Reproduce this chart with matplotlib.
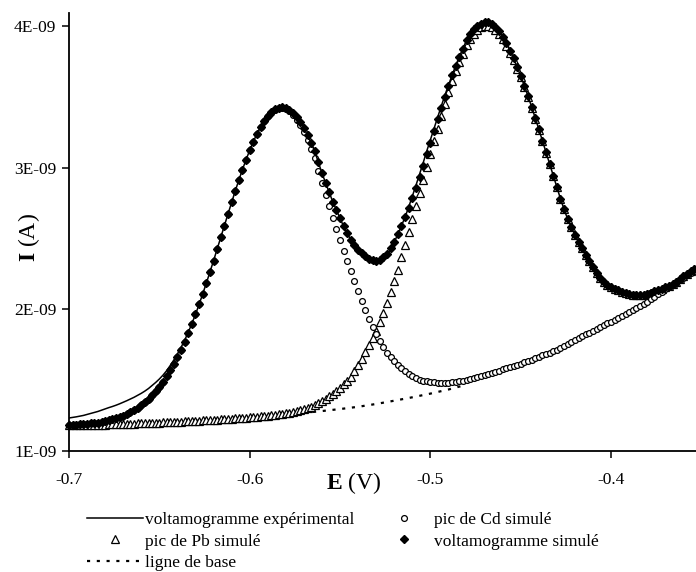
import numpy as np
import matplotlib
matplotlib.use("Agg")
import matplotlib.pyplot as plt
from matplotlib.lines import Line2D

plt.rcParams['font.family'] = ['Liberation Serif', 'DejaVu Serif']
plt.rcParams['mathtext.fontset'] = 'custom'
plt.rcParams['mathtext.rm'] = 'Liberation Serif'
plt.rcParams['mathtext.bf'] = 'Liberation Serif:bold'

# Potential scan grid (V), 2 mV steps from -0.700 to -0.354
E = np.round(-0.700 + 0.002 * np.arange(174), 3)

# Currents in units of 1E-09 A
EXP = [1.233, 1.237, 1.241, 1.246, 1.251, 1.258, 1.265, 1.272, 1.279, 1.288,
       1.297, 1.306, 1.314, 1.323, 1.333, 1.344, 1.355, 1.367, 1.379, 1.393,
       1.407, 1.423, 1.441, 1.462, 1.484, 1.508, 1.535, 1.566, 1.603, 1.642,
       1.685, 1.731, 1.782, 1.838, 1.899, 1.964, 2.034, 2.109, 2.184, 2.263,
       2.343, 2.426, 2.508, 2.591, 2.673, 2.755, 2.835, 2.912, 2.986, 3.056,
       3.122, 3.183, 3.238, 3.287, 3.330, 3.364, 3.391, 3.411, 3.423, 3.427,
       3.422, 3.408, 3.386, 3.357, 3.320, 3.277, 3.228, 3.173, 3.115, 3.037,
       2.961, 2.892, 2.825, 2.759, 2.700, 2.642, 2.585, 2.535, 2.490, 2.455,
       2.417, 2.385, 2.359, 2.337, 2.325, 2.321, 2.330, 2.351, 2.381, 2.425,
       2.475, 2.529, 2.589, 2.651, 2.722, 2.797, 2.874, 2.953, 3.033, 3.117,
       3.196, 3.276, 3.355, 3.433, 3.509, 3.582, 3.652, 3.720, 3.783, 3.840,
       3.898, 3.941, 3.975, 4.001, 4.016, 4.025, 4.024, 4.015, 3.995, 3.965,
       3.925, 3.878, 3.826, 3.770, 3.710, 3.646, 3.578, 3.506, 3.430, 3.352,
       3.272, 3.190, 3.108, 3.025, 2.942, 2.860, 2.780, 2.705, 2.636, 2.578,
       2.526, 2.478, 2.432, 2.386, 2.341, 2.298, 2.258, 2.224, 2.196, 2.174,
       2.157, 2.144, 2.133, 2.123, 2.115, 2.108, 2.103, 2.100, 2.100, 2.109,
       2.121, 2.135, 2.141, 2.144, 2.146, 2.156, 2.167, 2.180, 2.196, 2.214,
       2.233, 2.251, 2.268, 2.284]

SIM = [1.183, 1.185, 1.186, 1.188, 1.189, 1.192, 1.195, 1.198, 1.201, 1.206,
       1.211, 1.217, 1.223, 1.230, 1.239, 1.249, 1.260, 1.273, 1.287, 1.304,
       1.322, 1.343, 1.366, 1.392, 1.421, 1.453, 1.488, 1.526, 1.569, 1.614,
       1.663, 1.716, 1.772, 1.833, 1.897, 1.964, 2.034, 2.109, 2.184, 2.263,
       2.343, 2.426, 2.508, 2.591, 2.673, 2.755, 2.835, 2.912, 2.986, 3.056,
       3.122, 3.183, 3.238, 3.287, 3.330, 3.364, 3.391, 3.411, 3.423, 3.427,
       3.422, 3.408, 3.386, 3.357, 3.320, 3.277, 3.228, 3.173, 3.115, 3.037,
       2.961, 2.892, 2.825, 2.759, 2.700, 2.642, 2.585, 2.535, 2.490, 2.455,
       2.422, 2.395, 2.374, 2.357, 2.347, 2.343, 2.350, 2.366, 2.391, 2.430,
       2.475, 2.529, 2.589, 2.651, 2.717, 2.787, 2.859, 2.933, 3.011, 3.095,
       3.176, 3.258, 3.340, 3.421, 3.501, 3.578, 3.652, 3.720, 3.783, 3.840,
       3.898, 3.941, 3.975, 4.001, 4.016, 4.025, 4.024, 4.015, 3.995, 3.965,
       3.925, 3.878, 3.826, 3.770, 3.710, 3.646, 3.578, 3.506, 3.430, 3.352,
       3.272, 3.190, 3.108, 3.025, 2.942, 2.860, 2.780, 2.705, 2.636, 2.578,
       2.526, 2.478, 2.432, 2.386, 2.341, 2.298, 2.258, 2.224, 2.196, 2.174,
       2.157, 2.144, 2.133, 2.123, 2.115, 2.108, 2.103, 2.100, 2.100, 2.103,
       2.109, 2.117, 2.126, 2.136, 2.146, 2.156, 2.167, 2.180, 2.196, 2.214,
       2.233, 2.251, 2.268, 2.284]

CD = [1.183, 1.185, 1.186, 1.188, 1.189, 1.192, 1.195, 1.198, 1.201, 1.206,
      1.211, 1.217, 1.223, 1.230, 1.239, 1.249, 1.260, 1.273, 1.287, 1.304,
      1.322, 1.343, 1.366, 1.392, 1.421, 1.453, 1.488, 1.526, 1.569, 1.614,
      1.663, 1.716, 1.772, 1.833, 1.897, 1.964, 2.034, 2.109, 2.184, 2.263,
      2.343, 2.426, 2.508, 2.591, 2.673, 2.755, 2.835, 2.912, 2.986, 3.056,
      3.122, 3.183, 3.238, 3.286, 3.328, 3.362, 3.388, 3.407, 3.418, 3.420,
      3.413, 3.397, 3.372, 3.339, 3.298, 3.250, 3.195, 3.133, 3.067, 2.979,
      2.892, 2.810, 2.728, 2.645, 2.568, 2.491, 2.414, 2.342, 2.271, 2.202,
      2.129, 2.061, 1.996, 1.935, 1.878, 1.825, 1.777, 1.732, 1.692, 1.660,
      1.632, 1.609, 1.588, 1.565, 1.546, 1.530, 1.516, 1.504, 1.496, 1.493,
      1.487, 1.484, 1.482, 1.480, 1.481, 1.482, 1.485, 1.488, 1.491, 1.496,
      1.501, 1.507, 1.515, 1.522, 1.528, 1.535, 1.544, 1.552, 1.561, 1.568,
      1.576, 1.585, 1.592, 1.600, 1.608, 1.616, 1.625, 1.635, 1.644, 1.654,
      1.663, 1.674, 1.684, 1.695, 1.705, 1.716, 1.729, 1.742, 1.756, 1.769,
      1.782, 1.796, 1.809, 1.823, 1.836, 1.850, 1.863, 1.875, 1.888, 1.900,
      1.913, 1.926, 1.939, 1.952, 1.965, 1.978, 1.993, 2.009, 2.024, 2.040,
      2.055, 2.072, 2.089, 2.106, 2.123, 2.140, 2.156, 2.173, 2.189, 2.206,
      2.222, 2.239, 2.256, 2.273]

PB = [1.180, 1.181, 1.181, 1.182, 1.182, 1.183, 1.184, 1.185, 1.185, 1.186,
      1.187, 1.188, 1.189, 1.189, 1.190, 1.191, 1.192, 1.193, 1.194, 1.195,
      1.196, 1.197, 1.198, 1.199, 1.200, 1.201, 1.202, 1.203, 1.205, 1.206,
      1.207, 1.208, 1.209, 1.211, 1.212, 1.213, 1.214, 1.216, 1.217, 1.219,
      1.220, 1.222, 1.223, 1.225, 1.226, 1.228, 1.230, 1.232, 1.233, 1.235,
      1.237, 1.239, 1.241, 1.244, 1.247, 1.249, 1.252, 1.255, 1.259, 1.263,
      1.267, 1.271, 1.276, 1.283, 1.289, 1.296, 1.305, 1.314, 1.325, 1.337,
      1.351, 1.367, 1.385, 1.404, 1.425, 1.447, 1.470, 1.495, 1.525, 1.562,
      1.605, 1.650, 1.698, 1.746, 1.797, 1.850, 1.910, 1.975, 2.045, 2.120,
      2.198, 2.280, 2.366, 2.455, 2.545, 2.636, 2.727, 2.818, 2.910, 3.002,
      3.094, 3.185, 3.275, 3.363, 3.448, 3.530, 3.608, 3.680, 3.746, 3.805,
      3.865, 3.910, 3.945, 3.972, 3.990, 4.000, 4.000, 3.992, 3.973, 3.945,
      3.907, 3.861, 3.811, 3.757, 3.698, 3.636, 3.569, 3.498, 3.423, 3.346,
      3.267, 3.186, 3.105, 3.023, 2.941, 2.860, 2.780, 2.705, 2.636, 2.578,
      2.526, 2.478, 2.432, 2.386, 2.341, 2.298, 2.258, 2.224, 2.196, 2.174,
      2.157, 2.144, 2.133, 2.123, 2.115, 2.108, 2.103, 2.100, 2.100, 2.103,
      2.109, 2.117, 2.126, 2.136, 2.146, 2.156, 2.167, 2.180, 2.196, 2.214,
      2.233, 2.251, 2.268, 2.284]

E_BASE = [-0.70, -0.69, -0.68, -0.67, -0.66, -0.65, -0.64, -0.63, -0.62, -0.61,
          -0.60, -0.59, -0.58, -0.57, -0.56, -0.55, -0.54, -0.53, -0.52, -0.51,
          -0.50, -0.49, -0.48]
BASE = [1.180, 1.183, 1.187, 1.191, 1.196, 1.201, 1.207, 1.213, 1.220, 1.228,
        1.237, 1.247, 1.258, 1.269, 1.282, 1.296, 1.312, 1.332, 1.355, 1.379,
        1.405, 1.434, 1.468]

X_TICKS = [-0.7, -0.6, -0.5, -0.4]
X_TICKLABELS = ['-0.7', '-0.6', '-0.5', '-0.4']
Y_TICKS = [1e-9, 2e-9, 3e-9, 4e-9]
Y_TICKLABELS = ['1E-09', '2E-09', '3E-09', '4E-09']

LABELS = ['voltamogramme expérimental', 'pic de Pb simulé', 'ligne de base',
          'pic de Cd simulé', 'voltamogramme simulé']

scale = 1e-9
W, H = 696, 572
fig = plt.figure(figsize=(W / 100, H / 100), dpi=100)
ax = fig.add_axes([69 / W, 1 - 451 / H, (W - 69) / W, (451 - 13) / H])

ax.plot(E, np.array(PB) * scale, linestyle='none', marker='^', ms=5.2,
        mfc='white', mec='black', mew=0.9, zorder=3, clip_on=False)
ax.plot(E, np.array(CD) * scale, linestyle='none', marker='o', ms=4.2,
        mfc='white', mec='black', mew=0.9, zorder=3, clip_on=False)
ax.plot(E_BASE, np.array(BASE) * scale, color='black', lw=1.6,
        linestyle=(0, (1.4, 3.0)), zorder=2)
ax.plot(E, np.array(SIM) * scale, linestyle='none', marker='D', ms=4.0,
        color='black', zorder=4, clip_on=False)
ax.plot(E, np.array(EXP) * scale, color='black', lw=1.1, zorder=5)

ax.set_xlim(-0.7, -0.353)
ax.set_ylim(1e-9, 4.091e-9)
ax.set_xticks(X_TICKS)
ax.set_xticklabels(X_TICKLABELS)
ax.set_yticks(Y_TICKS)
ax.set_yticklabels(Y_TICKLABELS)
for s in ['top', 'right']:
    ax.spines[s].set_visible(False)
for s in ['left', 'bottom']:
    ax.spines[s].set_linewidth(1.3)
    ax.spines[s].set_color('black')
ax.tick_params(axis='both', direction='out', length=5, width=1.1,
               labelsize=12.5, colors='black')
ax.tick_params(axis='x', pad=10)
ax.tick_params(axis='y', pad=4)

fig.text(354 / W, 1 - 489.5 / H, r'$\mathbf{E}$ (V)', ha='center',
         va='baseline', fontsize=17)
fig.text(29 / W, 1 - 238 / H, r'$\mathbf{I}$ (A)', ha='center',
         va='center', rotation=90, fontsize=17)

handles = [
    Line2D([], [], color='black', lw=1.1),
    Line2D([], [], linestyle='none', marker='^', ms=5.2, mfc='white',
           mec='black', mew=0.9),
    Line2D([], [], color='black', lw=1.6, linestyle=(0, (1.4, 3.0))),
    Line2D([], [], linestyle='none', marker='o', ms=4.2, mfc='white',
           mec='black', mew=0.9),
    Line2D([], [], linestyle='none', marker='D', ms=4.0, color='black'),
]
fig.legend(handles, LABELS, ncol=2, loc='upper left',
           bbox_to_anchor=(87 / W, 1 - 512 / H), frameon=False,
           fontsize=12.5, handlelength=3.2, handletextpad=0.12,
           columnspacing=1.3, labelspacing=0.3, borderpad=0,
           borderaxespad=0, numpoints=1)

fig.savefig('out.png', dpi=100)
